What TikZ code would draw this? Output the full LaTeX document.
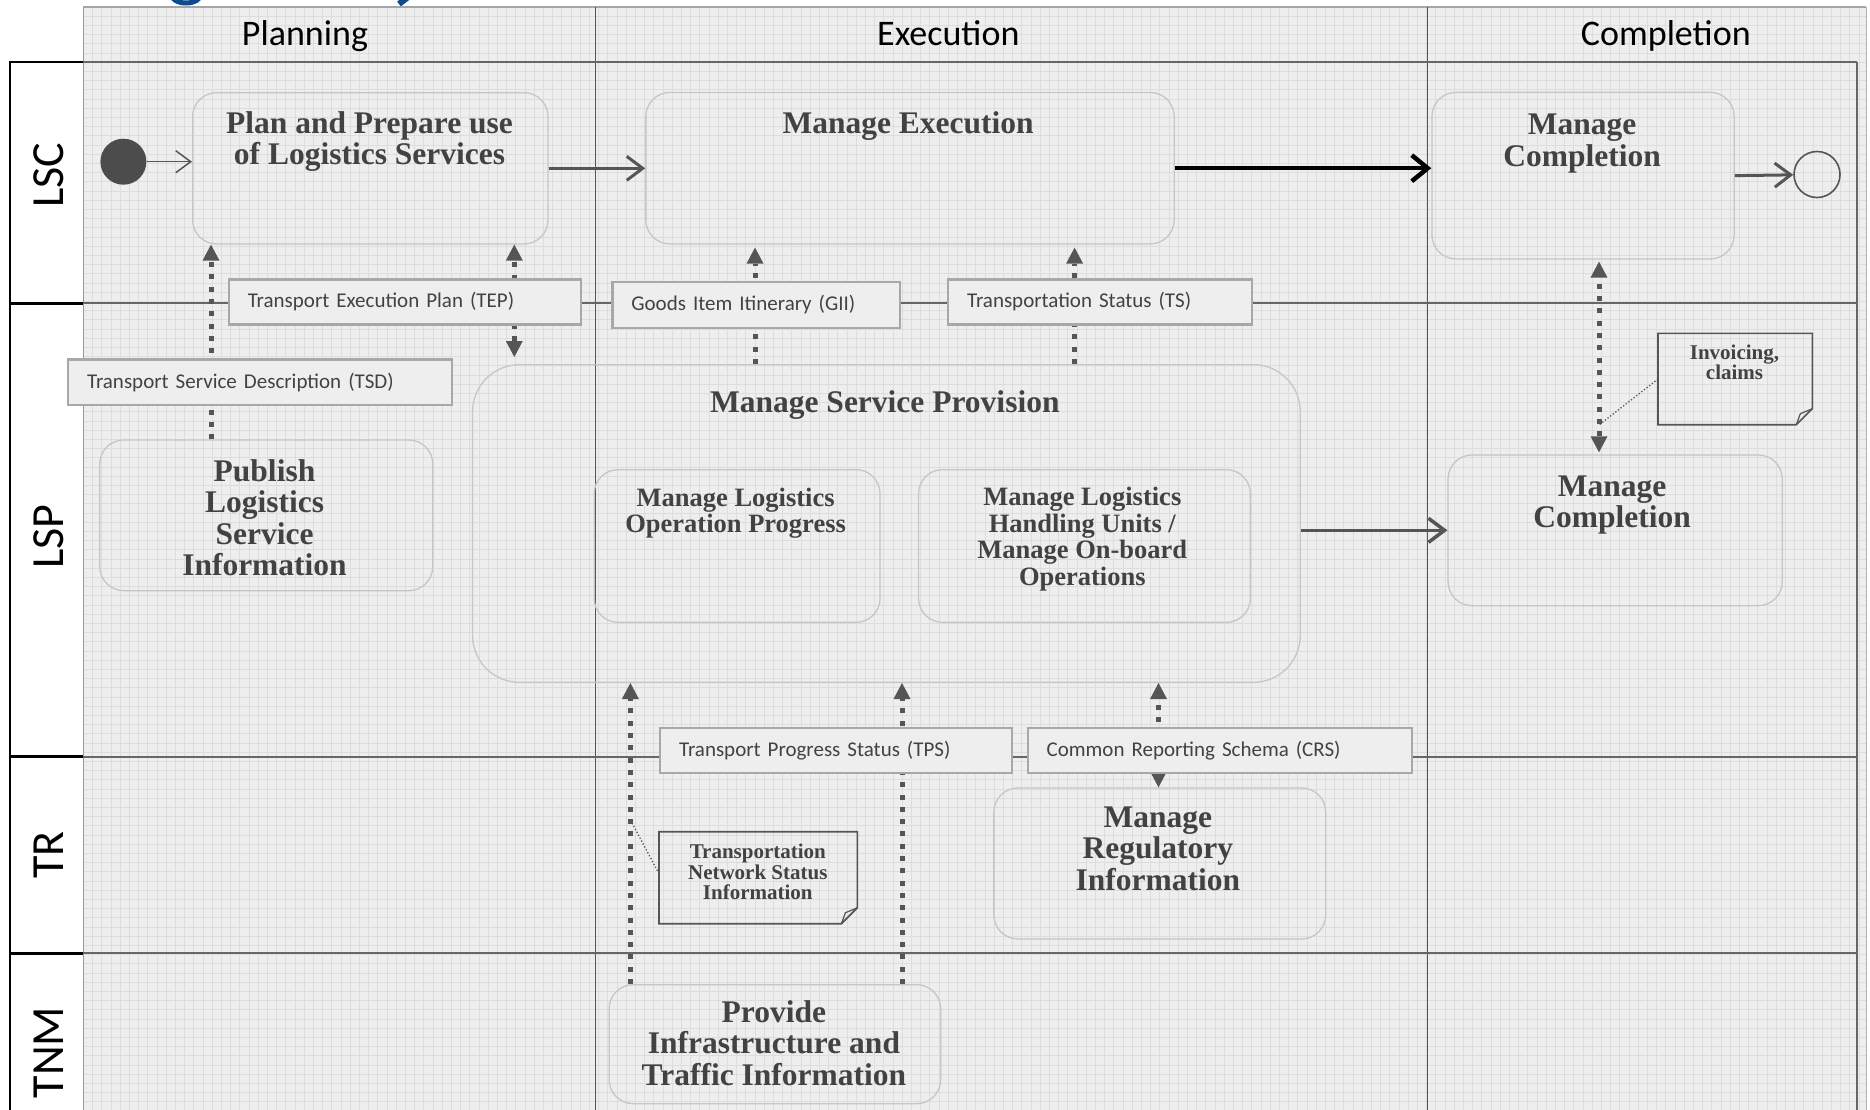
\documentclass[tikz,border=0pt]{standalone}
\usepackage{fontspec}
\setmainfont{Liberation Serif}
\newfontfamily\calfont{Carlito}
\usetikzlibrary{arrows.meta,calc}

\definecolor{bg}{HTML}{EEEEEE}
\definecolor{gridc}{HTML}{DDDDDD}
\definecolor{boxline}{HTML}{C6C6C6}
\definecolor{lblline}{HTML}{A8A8A8}
\definecolor{darkg}{HTML}{555555}
\definecolor{laneg}{HTML}{666666}
\definecolor{txt}{HTML}{424242}
\definecolor{titleblue}{HTML}{0E4A8C}

\tikzset{
  procbox/.style={draw=boxline, line width=1.3pt, rounded corners=24pt, anchor=north west, inner sep=0pt},
  bigtext/.style={font=\fontsize{31.5}{31.5}\selectfont\bfseries, text=txt, align=center, inner sep=0pt},
  subtext/.style={font=\fontsize{26.5}{26.5}\selectfont\bfseries, text=txt, align=center, inner sep=0pt},
  notetext/.style={font=\fontsize{21}{20.5}\selectfont\bfseries, text=txt, align=center, inner sep=0pt},
  notebox/.style={draw=none, anchor=north west, inner sep=0pt},
  noteline/.style={draw=darkg, line width=1.6pt, line join=miter},
  lbl/.style={draw=lblline, line width=2.2pt, fill=bg, anchor=north west, align=left,
    font=\calfont\fontsize{21}{25}\selectfont, text=txt, inner xsep=19pt, inner ysep=0pt},
  hdr/.style={font=\calfont\fontsize{36}{40}\selectfont, text=black, inner sep=0pt},
  lanelbl/.style={font=\calfont\fontsize{46}{50}\selectfont, text=black, inner sep=0pt, rotate=90},
  flow/.style={draw=darkg, line width=5pt, dash pattern=on 5pt off 7.3pt},
  tri/.tip={Triangle[length=16pt, width=17pt, line width=0pt]},
  ctrl/.style={draw=darkg, line width=3pt, -{Straight Barb[length=16pt, width=24pt]}},
  grid line/.style={draw=gridc, line width=0.8pt},
  lane line/.style={draw=laneg, line width=2.2pt},
  connect/.style={draw=darkg, line width=1.3pt, dotted}
}

\begin{document}
\begin{tikzpicture}[x=1pt, y=-1pt]
\useasboundingbox (0,0) rectangle (1870,1109);
\fill[white] (0,0) rectangle (1870,1109);

% title fragments (cut off)
\draw[titleblue, line width=5pt] (171,-6) arc[start angle=180, end angle=0, x radius=15, y radius=9];
\draw[titleblue, line width=6pt] (420,-12) -- (399,4);

% background with grid
\fill[bg] (83.4,7) rectangle (1866,1112);
\foreach \i in {0,...,193} {\draw[grid line] ({83.4+\i*9.2},7) -- ({83.4+\i*9.2},1112);}
\foreach \j in {0,...,119} {\draw[grid line] (83.4,{7+\j*9.2}) -- (1866,{7+\j*9.2});}

% frame
\draw[draw=gray!70, line width=1.2pt] (83.4,7) -- (1866,7);
\draw[draw=gray!60, line width=1pt] (1866,7) -- (1866,1112);
\draw[draw=gray!80, line width=1pt] (83.4,7) -- (83.4,1112);
\draw[lane line] (1857,62) -- (1857,1112);

% column dividers
\draw[draw=darkg, line width=1.2pt] (595.1,7) -- (595.1,1112);
\draw[draw=darkg, line width=1.2pt] (1427.5,7) -- (1427.5,1112);

% lane column
\fill[white] (9.6,62) rectangle (82.9,1112);
\draw[black, line width=2.2pt] (9.6,1112) -- (9.6,62) -- (83.4,62);
\foreach \yy in {303.3,756.7,953.3} {\draw[black, line width=2.6pt] (9.6,\yy) -- (83.4,\yy);}
\draw[lane line] (83.4,62) -- (1857,62);
\foreach \yy in {303.3,756.7,953.3} {\draw[lane line] (83.4,\yy) -- (1857,\yy);}

% headers and lane labels
\node[hdr, anchor=base] (hplan) at (305,45.5) {Planning};
\node[hdr, anchor=base] (hexec) at (948.3,45.5) {Execution};
\node[hdr, anchor=base] (hcomp) at (1665.8,45.5) {Completion};
\node[lanelbl] (lsc) at (48.5,175) {LSC};
\node[lanelbl] (lsp) at (48.5,536.7) {LSP};
\node[lanelbl] (ltr) at (48.5,855) {TR};
\node[lanelbl] (ltnm) at (48.5,1052.5) {TNM};

% process boxes
\node[procbox, minimum width=355.4pt, minimum height=151.3pt] (plan) at (192,92) {};
\node[procbox, minimum width=528.3pt, minimum height=151.5pt] (exec) at (645.2,91.8) {};
\node[procbox, minimum width=302.2pt, minimum height=166.6pt] (mcomp) at (1431.3,91.7) {};
\node[procbox, minimum width=333pt, minimum height=150.7pt] (pub) at (99.1,439.3) {};
\node[procbox, rounded corners=47pt, minimum width=827.7pt, minimum height=317.7pt] (msp) at (471.9,364) {};
\node[procbox, minimum width=285.9pt, minimum height=152.7pt] (mlop) at (593.5,469) {};
\node[procbox, minimum width=331.8pt, minimum height=152.7pt] (mlhu) at (917.9,469) {};
\node[procbox, minimum width=334.2pt, minimum height=150.7pt] (mcl) at (1447.4,454.3) {};
\node[procbox, minimum width=331.8pt, minimum height=151pt] (mri) at (993.2,787.3) {};
\node[procbox, minimum width=331.5pt, minimum height=119pt] (prov) at (608.5,984) {};

% named coordinates for flow positions
\coordinate (xtsd) at (211,0);
\coordinate (xtep) at (514.3,0);
\coordinate (xgii) at (755,0);
\coordinate (xts) at (1074.6,0);
\coordinate (xinv) at (1599,0);
\coordinate (xtnsi) at (630.4,0);
\coordinate (xtps) at (902,0);
\coordinate (xcrs) at (1158.5,0);

% object flows (dotted)
\draw[flow, -{tri}] (pub.north -| xtsd) -- (plan.south -| xtsd);
\draw[flow, {tri}-{tri}, shorten <=7pt] (msp.north -| xtep) -- (plan.south -| xtep);
\draw[flow, -{tri}, shorten >=3pt] (msp.north -| xgii) -- (exec.south -| xgii);
\draw[flow, -{tri}, shorten >=3pt] (msp.north -| xts) -- (exec.south -| xts);
\draw[flow, {tri}-{tri}, shorten <=2pt, shorten >=2pt] (mcl.north -| xinv) -- (mcomp.south -| xinv);
\draw[flow, -{tri}] (prov.north -| xtnsi) -- (msp.south -| xtnsi);
\draw[flow, -{tri}] (prov.north -| xtps) -- (msp.south -| xtps);
\draw[flow, {tri}-{tri}] (mri.north -| xcrs) -- (msp.south -| xcrs);

% data labels
\node[lbl, text width=313.8pt, minimum height=45pt] (tep) at (227.7,278.3) {Transport Execution Plan (TEP)};
\node[lbl, text width=249.9pt, minimum height=45.7pt] (gii) at (611.3,281) {Goods Item Itinerary (GII)};
\node[lbl, text width=266pt, minimum height=45pt] (ts) at (947,278.3) {Transportation Status (TS)};
\node[lbl, text width=345.9pt, minimum height=45.7pt] (tsd) at (67,358.3) {Transport Service Description (TSD)};
\node[lbl, text width=314pt, minimum height=45pt] (tps) at (659,726.7) {Transport Progress Status (TPS)};
\node[lbl, text width=346.5pt, minimum height=45pt] (crs) at (1026.5,726.7) {Common Reporting Schema (CRS)};

% process texts
\node[bigtext] (plant) at (369.5,141.5) {Plan and Prepare use\\of Logistics Services};
\node[bigtext] (exect) at (908.1,126.3) {Manage Execution};
\node[bigtext] (mcompt) at (1582,143.5) {Manage\\Completion};
\node[bigtext] (pubt) at (264.5,517.5) {Publish\\Logistics\\Service\\Information};
\node[bigtext] (mspt) at (884.8,405.5) {Manage Service Provision};
\node[subtext] (mlopt) at (735.6,513) {Manage Logistics\\Operation Progress};
\node[subtext] (mlhut) at (1082.3,539) {Manage Logistics\\Handling Units /\\Manage On-board\\Operations};
\node[bigtext] (mclt) at (1612,505) {Manage\\Completion};
\node[bigtext] (mrit) at (1157.9,848.5) {Manage\\Regulatory\\Information};
\node[bigtext] (provt) at (773.9,1043) {Provide\\Infrastructure and\\Traffic Information};

% notes
\node[notebox, minimum width=153.9pt, minimum height=91pt] (inv) at (1658,333.3) {};
\draw[noteline] (inv.north west) -- (inv.north east) -- ($(inv.south east)+(0,-16)$) -- ($(inv.south east)+(-16,0)$) -- (inv.south west) -- cycle;
\draw[noteline, line width=1.2pt] ($(inv.south east)+(-16,0)$) -- ($(inv.south east)+(-12,-11)$) -- ($(inv.south east)+(0,-16)$);
\node[notetext] (invt) at (1734.5,362.2) {Invoicing,\\claims};
\coordinate (invp) at (1599,425);
\draw[connect] (inv.west) -- (invp);

\node[notebox, minimum width=198pt, minimum height=91.6pt] (tnsi) at (659,831.7) {};
\draw[noteline] (tnsi.north west) -- (tnsi.north east) -- ($(tnsi.south east)+(0,-16)$) -- ($(tnsi.south east)+(-16,0)$) -- (tnsi.south west) -- cycle;
\draw[noteline, line width=1.2pt] ($(tnsi.south east)+(-16,0)$) -- ($(tnsi.south east)+(-12,-11)$) -- ($(tnsi.south east)+(0,-16)$);
\node[notetext] (tnsit) at (757.8,872.3) {Transportation\\Network Status\\Information};
\coordinate (tnsip) at (630.4,820);
\draw[connect] ($(tnsi.west)+(0,-4)$) -- (tnsip);

% start / end
\node[circle, fill=darkg!90!black, minimum size=46pt, inner sep=0pt] (start) at (123.4,161.7) {};
\node[circle, draw=darkg, line width=1.6pt, minimum size=46pt, inner sep=0pt] (end) at (1817,174.5) {};

% control flows
\draw[ctrl, line width=1.5pt, -{Straight Barb[length=15pt, width=22pt]}] (start) -- (start -| plan.west);
\draw[ctrl] (plan.east) -- (plan.east -| exec.west);
\draw[ctrl, draw=black, line width=4.5pt, -{Straight Barb[length=16pt, width=26pt]}] (exec.east) -- (exec.east -| mcomp.west);
\draw[ctrl] (mcomp.east) -- (end);
\draw[ctrl, line width=3.5pt] (msp.east |- mcl.west) -- (mcl.west);
\end{tikzpicture}
\end{document}
